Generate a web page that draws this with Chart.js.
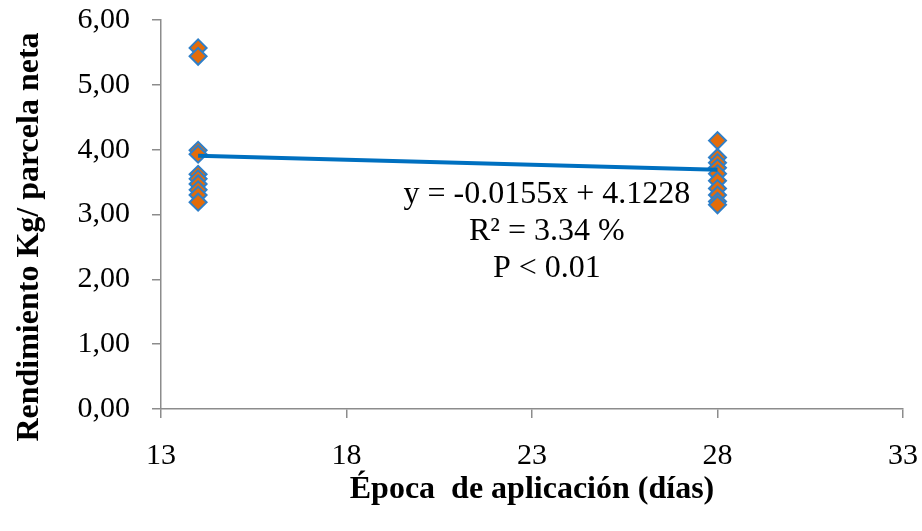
<!DOCTYPE html>
<html>
<head>
<meta charset="utf-8">
<title>Rendimiento vs época de aplicación</title>
<script src="https://cdn.jsdelivr.net/npm/chart.js@4.4.1/dist/chart.umd.min.js"></script>
<style>
  body { margin: 0; background: #ffffff; }
</style>
</head>
<body>
<canvas id="rendimientoChart" width="922" height="531"></canvas>
<script>
// época de aplicación (días) y rendimiento por parcela neta
const epoca14 = [5.57, 5.44, 3.99, 3.93, 3.62, 3.55, 3.47, 3.38, 3.30, 3.19];
const epoca28 = [4.14, 3.88, 3.80, 3.72, 3.63, 3.52, 3.40, 3.30, 3.20, 3.15];
const diasAplicacion = [14, 28];

// recta de regresión
const pendiente = -0.0155;
const intercepto = 4.1228;
const etiquetasRecta = ['y = -0.0155x + 4.1228', 'R² = 3.34 %', 'P < 0.01'];

const yTicks = [0, 1, 2, 3, 4, 5, 6];
const xTicks = [13, 18, 23, 28, 33];
const tituloY = 'Rendimiento Kg/ parcela neta';
const tituloX = 'Época  de aplicación (días)';

const puntos = [
  ...epoca14.map(v => ({ x: diasAplicacion[0], y: v })),
  ...epoca28.map(v => ({ x: diasAplicacion[1], y: v }))
];
const recta = diasAplicacion.map(d => ({ x: d, y: pendiente * d + intercepto }));

const serif = 'Liberation Serif, Times New Roman, serif';
const gris = '#8c8c8c';

// ecuación bajo la recta y título del eje Y (algo más abajo que el centro del eje)
const textos = {
  id: 'textos',
  afterDatasetsDraw(chart) {
    const { ctx, scales } = chart;
    const cx = scales.x.getPixelForValue(23.4);
    const cy = scales.y.getPixelForValue(3.30);
    ctx.save();
    ctx.fillStyle = '#000';
    ctx.textAlign = 'center';
    ctx.textBaseline = 'middle';
    ctx.font = '32px ' + serif;
    etiquetasRecta.forEach((t, i) => ctx.fillText(t, cx, cy + i * 37));

    ctx.font = 'bold 32px ' + serif;
    ctx.translate(30, 237);
    ctx.rotate(-Math.PI / 2);
    ctx.fillText(tituloY, 0, 0);
    ctx.restore();
  }
};

new Chart(document.getElementById('rendimientoChart'), {
  type: 'scatter',
  data: {
    datasets: [{
      type: 'line',
      data: recta,
      borderColor: '#0070c0',
      borderWidth: 4,
      pointRadius: 0,
      fill: false,
      order: 0
    }, {
      data: puntos,
      pointStyle: 'rectRot',
      pointRadius: 8.5,
      pointHoverRadius: 8.5,
      backgroundColor: '#e36c0a',
      borderColor: '#2f7fc8',
      borderWidth: 2,
      order: 1
    }]
  },
  options: {
    responsive: false,
    animation: false,
    layout: { padding: { top: 20, right: 19, left: 0, bottom: 0 } },
    plugins: { legend: { display: false }, tooltip: { enabled: false } },
    scales: {
      x: {
        type: 'linear',
        min: 13,
        max: 33,
        afterBuildTicks: s => { s.ticks = xTicks.map(v => ({ value: v })); },
        afterFit: s => { s.height = 122; s.paddingLeft = 0; s.paddingRight = 0; },
        border: { color: gris, width: 1.5 },
        grid: { drawOnChartArea: false, drawTicks: true, tickLength: 9, color: gris, lineWidth: 1.5 },
        ticks: { color: '#000', padding: 20, font: { family: serif, size: 30 } },
        title: {
          display: true,
          text: tituloX,
          color: '#000',
          padding: { bottom: 22 },
          font: { family: serif, size: 32, weight: 'bold' }
        }
      },
      y: {
        min: 0,
        max: 6,
        afterBuildTicks: s => { s.ticks = yTicks.map(v => ({ value: v })); },
        afterFit: s => { s.width = 161; s.paddingTop = 0; s.paddingBottom = 0; },
        border: { color: gris, width: 1.5 },
        grid: { drawOnChartArea: false, drawTicks: true, tickLength: 9, color: gris, lineWidth: 1.5 },
        ticks: {
          color: '#000',
          padding: 22,
          font: { family: serif, size: 30 },
          callback: v => v.toFixed(2).replace('.', ',')
        }
      }
    }
  },
  plugins: [textos]
});
</script>
</body>
</html>
